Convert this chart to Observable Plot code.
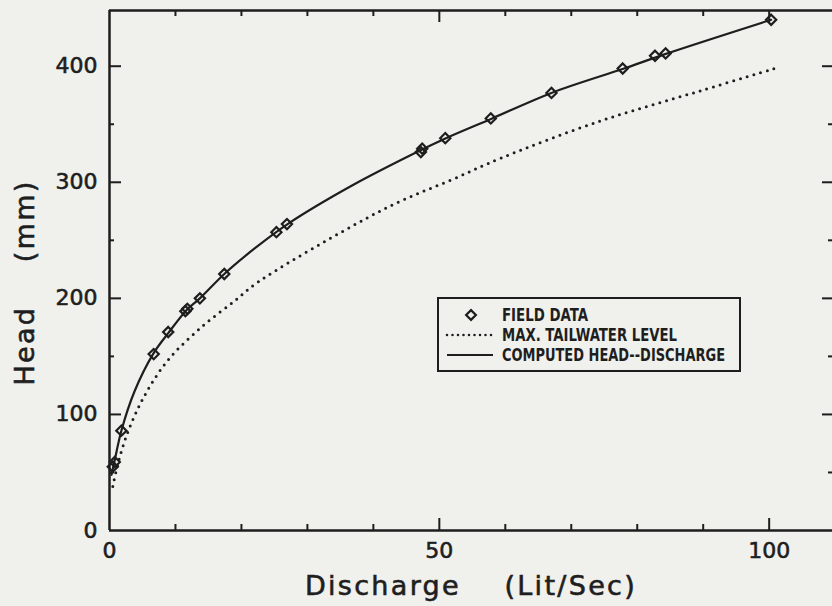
<!DOCTYPE html>
<html><head><meta charset="utf-8">
<script src="https://cdn.jsdelivr.net/npm/d3@7"></script>
<script src="https://cdn.jsdelivr.net/npm/@observablehq/plot@0.6"></script>
<style>
html,body{margin:0;padding:0;background:#f0f0ec;overflow:hidden}
#wrap{position:relative;width:832px;height:606px}
#legend{position:absolute;left:0;top:0;pointer-events:none}
</style></head><body><div id="wrap"></div>
<script>
// Field data (diamonds)
const fieldQ = [0.5, 0.8, 1.8, 6.7, 8.9, 11.5, 11.8, 13.7, 17.4, 25.3, 26.9, 47.2, 47.4, 50.9, 57.8, 67.0, 77.8, 82.7, 84.3, 100.3];
const fieldH = [55, 59, 86, 152, 171, 189, 191, 200, 221, 257, 264, 326, 329, 338, 355, 377, 398, 409, 411, 440];
// Computed head-discharge curve (solid)
const compQ = [0.3, 0.7, 1.8, 3.8, 6.6, 8.9, 11.7, 13.7, 17.4, 22, 27, 36.7, 47.3, 51, 58, 67, 78, 84, 100.3];
const compH = [48, 58, 86, 120, 152, 170, 190, 200, 221, 243, 264, 297, 328, 338, 355, 377, 398, 410, 440];
// Max. tailwater level (dotted)
const tailQ = [0.5, 1.3, 2.8, 5.3, 8.9, 13.9, 19, 22.5, 36.7, 44.2, 51.8, 59.4, 74.5, 89.7, 101.4];
const tailH = [38, 58, 85, 116, 147, 175, 198, 214, 262, 284, 302, 321, 353, 379, 399];
// Ticks
const xTickLabels = [0, 50, 100];
const yTickLabels = [0, 100, 200, 300, 400];
const xMinorTicks = [10, 20, 30, 40, 60, 70, 80, 90];
const xMajorTicks = [50, 100];
const yMinorTicks = [50, 150, 250, 350];
const yMajorTicks = [100, 200, 300, 400];
const xTitle = "Discharge\u00a0\u00a0\u00a0\u00a0(Lit/Sec)";
const yTitle = "Head\u00a0\u00a0\u00a0\u00a0(mm)";
const legendLabels = ["FIELD DATA", "MAX. TAILWATER LEVEL", "COMPUTED HEAD--DISCHARGE"];

const W = 832, H = 606, mL = 109, mR = 0, mT = 10, mB = 76;
const xMax = 109.6, yMax = 448;
const kx = (W - mL - mR) / xMax, ky = (H - mT - mB) / yMax;
const ink = "#1e1e1e";

const field = fieldQ.map((q, i) => ({q, h: fieldH[i]}));
const comp = compQ.map((q, i) => ({q, h: compH[i]}));
const tail = tailQ.map((q, i) => ({q, h: tailH[i]}));

const rule = {stroke: ink, strokeWidth: 2};
const chart = Plot.plot({
  width: W, height: H, marginLeft: mL, marginRight: mR, marginTop: mT, marginBottom: mB,
  style: {background: "transparent", fontFamily: "DejaVu Sans", fontSize: "22px", color: ink, overflow: "visible"},
  x: {domain: [0, xMax], label: null},
  y: {domain: [0, yMax], label: null},
  marks: [
    Plot.ruleY([0], {stroke: ink, strokeWidth: 2.5}),
    Plot.ruleY([yMax], {stroke: ink, strokeWidth: 2.5}),
    Plot.ruleX([0], {stroke: ink, strokeWidth: 2.5}),
    Plot.ruleX(xMinorTicks, {x: d => d, y1: 0, y2: 6 / ky, ...rule}),
    Plot.ruleX(xMajorTicks, {x: d => d, y1: 0, y2: 12 / ky, ...rule}),
    Plot.ruleX(xMinorTicks, {x: d => d, y1: yMax, y2: yMax - 6 / ky, ...rule}),
    Plot.ruleX(xMajorTicks, {x: d => d, y1: yMax, y2: yMax - 12 / ky, ...rule}),
    Plot.ruleY(yMinorTicks, {y: d => d, x1: 0, x2: 5 / kx, ...rule}),
    Plot.ruleY(yMajorTicks, {y: d => d, x1: 0, x2: 12 / kx, ...rule}),
    Plot.ruleY(yMinorTicks, {y: d => d, x1: xMax, x2: xMax - 4 / kx, ...rule}),
    Plot.ruleY(yMajorTicks, {y: d => d, x1: xMax, x2: xMax - 10 / kx, ...rule}),
    Plot.axisX(xTickLabels, {anchor: "bottom", tickSize: 0, tickPadding: 12, fontSize: 22}),
    Plot.axisY(yTickLabels, {anchor: "left", tickSize: 0, tickPadding: 12, fontSize: 22}),
    Plot.line(tail, {x: "q", y: "h", curve: "catmull-rom", stroke: ink, strokeWidth: 3, strokeDasharray: "0,7", strokeLinecap: "round"}),
    Plot.line(comp, {x: "q", y: "h", curve: "catmull-rom", stroke: ink, strokeWidth: 2.2}),
    Plot.dot(field, {x: "q", y: "h", symbol: "diamond2", r: 4.6, stroke: ink, strokeWidth: 2.2, fill: "none"}),
    Plot.text([xTitle], {frameAnchor: "bottom", dy: 56, lineAnchor: "middle", textAnchor: "middle", fontSize: 27, fill: ink}),
    Plot.text([yTitle], {frameAnchor: "left", dx: -84, dy: 12, lineAnchor: "middle", textAnchor: "middle", rotate: -90, fontSize: 27, fill: ink})
  ]
});
document.getElementById("wrap").appendChild(chart);
chart.querySelectorAll("text").forEach(t => {
  t.setAttribute("stroke", ink);
  t.setAttribute("stroke-width", "0.6");
  if (t.textContent === xTitle || t.textContent === yTitle) t.setAttribute("letter-spacing", "2.3");
});

// Legend overlay
const lg = d3.select("#wrap").append("svg").attr("id", "legend").attr("width", W).attr("height", H);
lg.append("rect").attr("x", 438).attr("y", 298).attr("width", 302).attr("height", 73)
  .attr("fill", "none").attr("stroke", ink).attr("stroke-width", 2);
const rows = [315, 335, 355];
const widths = [86, 175, 223];
lg.append("path").attr("d", d3.symbol(d3.symbolDiamond2, Math.PI * 4.4 * 4.4)())
  .attr("transform", `translate(471,${rows[0]})`).attr("fill", "none").attr("stroke", ink).attr("stroke-width", 2.2);
lg.append("line").attr("x1", 447).attr("x2", 493).attr("y1", rows[1]).attr("y2", rows[1])
  .attr("stroke", ink).attr("stroke-width", 2.6).attr("stroke-dasharray", "0,5.5").attr("stroke-linecap", "round");
lg.append("line").attr("x1", 447).attr("x2", 493).attr("y1", rows[2]).attr("y2", rows[2])
  .attr("stroke", ink).attr("stroke-width", 2.2);
legendLabels.forEach((s, i) => {
  lg.append("text").attr("x", 502).attr("y", rows[i]).attr("dy", "0.36em")
    .attr("font-family", "'Liberation Sans Narrow', 'DejaVu Sans Condensed', sans-serif")
    .attr("font-weight", "bold").attr("font-size", 17).attr("fill", ink)
    .attr("textLength", widths[i]).attr("lengthAdjust", "spacingAndGlyphs").text(s);
});
</script></body></html>
